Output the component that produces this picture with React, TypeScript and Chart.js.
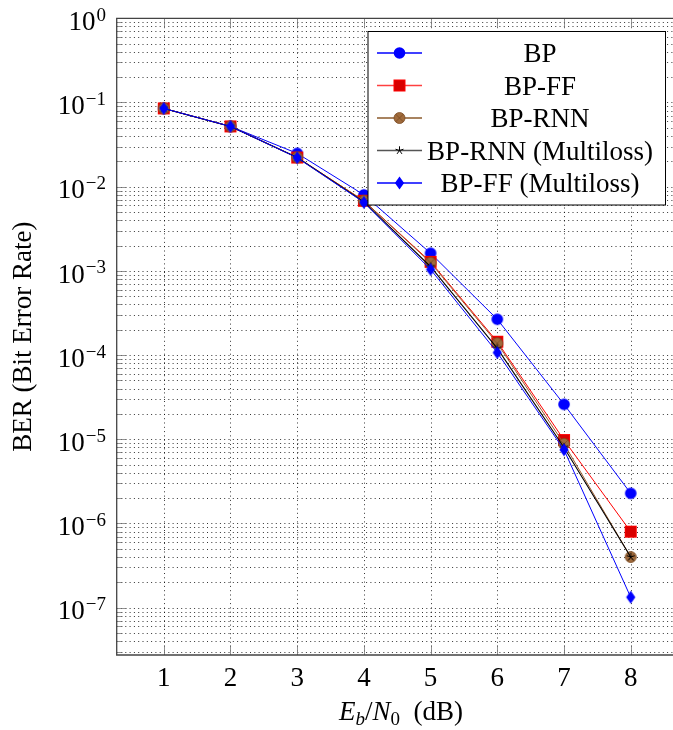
import React, { useEffect, useRef } from "react";
import { Chart, registerables } from "chart.js";

Chart.register(...registerables);

// ---- data ----
const X_VALUES = [1, 2, 3, 4, 5, 6, 7, 8];
const BP = [0.085, 0.052, 0.0249, 0.008, 0.00162, 2.66e-4, 2.6e-5, 2.28e-6];
const BP_FF = [0.085, 0.052, 0.0222, 0.0068, 0.00128, 1.44e-4, 9.8e-6, 8.0e-7];
const BP_RNN = [0.085, 0.052, 0.0223, 0.0068, 0.00125, 1.38e-4, 8.8e-6, 4.0e-7];
const BP_RNN_ML = [0.085, 0.052, 0.0222, 0.0066, 0.00112, 1.2e-4, 8.0e-6, 4.0e-7];
const BP_FF_ML = [0.085, 0.052, 0.0221, 0.0065, 0.00104, 1.07e-4, 7.5e-6, 1.33e-7];
const SERIES_NAMES = ["BP", "BP-FF", "BP-RNN", "BP-RNN (Multiloss)", "BP-FF (Multiloss)"];

const X_TICKS = [1, 2, 3, 4, 5, 6, 7, 8];
const Y_DECADES = [0, -1, -2, -3, -4, -5, -6, -7];
const X_MIN = 0.294;
const X_MAX = 8.634;
const Y_MIN = 2.74e-8;
const Y_MAX = 1;

const X_TITLE_PARTS = ["E", "b", "/", "N", "0", "  (dB)"];
const Y_TITLE = "BER (Bit Error Rate)";

const FONT = '"Liberation Serif", "Times New Roman", serif';
const FS = 27;
const FS_SMALL = 19;

type MarkerKind = "circle" | "square" | "otimes" | "star" | "diamond";

const STYLES: { line: string; legendLine: string; marker: MarkerKind; width: number }[] = [
  { line: "#0000ff", legendLine: "#0000ff", marker: "circle", width: 1 },
  { line: "#ff0000", legendLine: "#ff4040", marker: "square", width: 1 },
  { line: "#9b5a2a", legendLine: "#8b5a2b", marker: "otimes", width: 1 },
  { line: "#000000", legendLine: "#555555", marker: "star", width: 1.1 },
  { line: "#0000ff", legendLine: "#0000ff", marker: "diamond", width: 1 },
];

function drawMarker(ctx: CanvasRenderingContext2D, kind: MarkerKind, cx: number, cy: number) {
  ctx.save();
  ctx.setLineDash([]);
  if (kind === "circle") {
    ctx.beginPath();
    ctx.arc(cx, cy, 5.8, 0, Math.PI * 2);
    ctx.fillStyle = "#0000ff";
    ctx.fill();
  } else if (kind === "square") {
    ctx.fillStyle = "#d80000";
    ctx.strokeStyle = "#ff0000";
    ctx.lineWidth = 1;
    ctx.fillRect(cx - 5.5, cy - 5.5, 11, 11);
    ctx.strokeRect(cx - 5.5, cy - 5.5, 11, 11);
  } else if (kind === "otimes") {
    const r = 5.5;
    ctx.beginPath();
    ctx.arc(cx, cy, r, 0, Math.PI * 2);
    ctx.fillStyle = "#a06b3c";
    ctx.fill();
    ctx.strokeStyle = "#7a4a22";
    ctx.lineWidth = 0.8;
    ctx.stroke();
    const d = r * Math.SQRT1_2;
    ctx.beginPath();
    ctx.moveTo(cx - d, cy - d);
    ctx.lineTo(cx + d, cy + d);
    ctx.moveTo(cx - d, cy + d);
    ctx.lineTo(cx + d, cy - d);
    ctx.stroke();
  } else if (kind === "star") {
    ctx.strokeStyle = "#000";
    ctx.lineWidth = 1;
    ctx.beginPath();
    for (let k = 0; k < 5; k++) {
      const ang = -Math.PI / 2 + (k * 2 * Math.PI) / 5;
      ctx.moveTo(cx, cy);
      ctx.lineTo(cx + 4.2 * Math.cos(ang), cy + 4.2 * Math.sin(ang));
    }
    ctx.stroke();
  } else if (kind === "diamond") {
    ctx.fillStyle = "#0000ff";
    ctx.beginPath();
    ctx.moveTo(cx, cy - 6.5);
    ctx.lineTo(cx + 4.6, cy);
    ctx.lineTo(cx, cy + 6.5);
    ctx.lineTo(cx - 4.6, cy);
    ctx.closePath();
    ctx.fill();
  }
  ctx.restore();
}

function markerCanvas(kind: MarkerKind): HTMLCanvasElement {
  const c = document.createElement("canvas");
  c.width = 18;
  c.height = 18;
  const cx = c.getContext("2d")!;
  drawMarker(cx, kind, 9, 9);
  return c;
}

function yGridValues(): { v: number; major: boolean }[] {
  const out: { v: number; major: boolean }[] = [];
  for (let e = -8; e <= 0; e++) {
    for (let m = 1; m <= 9; m++) {
      const v = m * Math.pow(10, e);
      if (v >= Y_MIN * 0.999 && v <= Y_MAX * 1.0001) out.push({ v, major: m === 1 });
    }
  }
  return out;
}

const pgfPlugin = {
  id: "pgfDecor",
  beforeDatasetsDraw(chart: any) {
    const { ctx, chartArea: a, scales } = chart;
    const xs = scales.x;
    const ys = scales.y;
    ctx.save();
    ctx.strokeStyle = "rgba(0,0,0,0.8)";
    ctx.lineWidth = 1;
    ctx.setLineDash([1, 3.3]);
    for (const g of yGridValues()) {
      const py = Math.round(ys.getPixelForValue(g.v)) + 0.5;
      if (py < a.top || py > a.bottom) continue;
      ctx.beginPath();
      ctx.moveTo(a.left, py);
      ctx.lineTo(a.right, py);
      ctx.stroke();
    }
    for (const t of X_TICKS) {
      const px = Math.round(xs.getPixelForValue(t)) + 0.5;
      ctx.beginPath();
      ctx.moveTo(px, a.top);
      ctx.lineTo(px, a.bottom);
      ctx.stroke();
    }
    ctx.setLineDash([]);
    // tick marks (inside)
    ctx.strokeStyle = "#777";
    ctx.lineWidth = 0.8;
    for (const g of yGridValues()) {
      const py = Math.round(ys.getPixelForValue(g.v)) + 0.5;
      if (py < a.top || py > a.bottom) continue;
      const len = g.major ? 10 : 6;
      ctx.beginPath();
      ctx.moveTo(a.left, py);
      ctx.lineTo(a.left + len, py);
      ctx.stroke();
    }
    for (const t of X_TICKS) {
      const px = Math.round(xs.getPixelForValue(t)) + 0.5;
      ctx.beginPath();
      ctx.moveTo(px, a.bottom);
      ctx.lineTo(px, a.bottom - 10);
      ctx.moveTo(px, a.top);
      ctx.lineTo(px, a.top + 10);
      ctx.stroke();
    }
    ctx.restore();
  },
  afterDraw(chart: any) {
    const { ctx, chartArea: a, scales, data } = chart;
    const xs = scales.x;
    const ys = scales.y;
    ctx.save();
    // frame
    ctx.strokeStyle = "#444";
    ctx.lineWidth = 1.3;
    ctx.beginPath();
    ctx.moveTo(a.right + 2, a.top);
    ctx.lineTo(a.left, a.top);
    ctx.lineTo(a.left, a.bottom);
    ctx.lineTo(a.right + 2, a.bottom);
    ctx.stroke();

    ctx.fillStyle = "#000";
    // x tick labels
    ctx.font = `${FS}px ${FONT}`;
    ctx.textAlign = "center";
    ctx.textBaseline = "alphabetic";
    for (const t of X_TICKS) {
      ctx.fillText(String(t), xs.getPixelForValue(t), 686);
    }
    // y tick labels 10^n
    for (const e of Y_DECADES) {
      const py = ys.getPixelForValue(Math.pow(10, e));
      const exp = e === 0 ? "0" : "\u2212" + String(-e);
      ctx.font = `${FS_SMALL}px ${FONT}`;
      const ew = ctx.measureText(exp).width;
      ctx.font = `${FS}px ${FONT}`;
      const bw = ctx.measureText("10").width;
      const right = 106;
      ctx.textAlign = "left";
      ctx.fillText("10", right - ew - bw - 1, py + 11.8);
      ctx.font = `${FS_SMALL}px ${FONT}`;
      ctx.fillText(exp, right - ew, py + 2.5);
    }
    // x title
    const parts = [
      { t: X_TITLE_PARTS[0], f: `italic ${FS}px ${FONT}`, dy: 0 },
      { t: X_TITLE_PARTS[1], f: `italic ${FS_SMALL}px ${FONT}`, dy: 5 },
      { t: X_TITLE_PARTS[2], f: `${FS}px ${FONT}`, dy: 0 },
      { t: X_TITLE_PARTS[3], f: `italic ${FS}px ${FONT}`, dy: 0 },
      { t: X_TITLE_PARTS[4], f: `${FS_SMALL}px ${FONT}`, dy: 5 },
      { t: X_TITLE_PARTS[5], f: `${FS}px ${FONT}`, dy: 0 },
    ];
    let total = 0;
    const widths = parts.map((p) => {
      ctx.font = p.f;
      const w = ctx.measureText(p.t).width;
      total += w;
      return w;
    });
    let cx = 401 - total / 2;
    ctx.textAlign = "left";
    parts.forEach((p, i) => {
      ctx.font = p.f;
      ctx.fillText(p.t, cx, 720 + p.dy);
      cx += widths[i];
    });
    // y title
    ctx.save();
    ctx.translate(31, (a.top + a.bottom) / 2);
    ctx.rotate(-Math.PI / 2);
    ctx.font = `${FS}px ${FONT}`;
    ctx.textAlign = "center";
    ctx.fillText(Y_TITLE, 0, 0);
    ctx.restore();

    // legend
    const lx0 = 368, ly0 = 31.5, lx1 = 665.5, ly1 = 205;
    ctx.fillStyle = "#fff";
    ctx.fillRect(lx0, ly0, lx1 - lx0, ly1 - ly0);
    ctx.strokeStyle = "#000";
    ctx.lineWidth = 1;
    ctx.strokeRect(lx0, ly0, lx1 - lx0, ly1 - ly0);
    data.datasets.forEach((ds: any, i: number) => {
      const ry = 53 + i * 32.5;
      const st = STYLES[i];
      ctx.strokeStyle = st.legendLine;
      ctx.lineWidth = st.width + 0.5;
      ctx.beginPath();
      ctx.moveTo(377, ry);
      ctx.lineTo(422, ry);
      ctx.stroke();
      drawMarker(ctx, st.marker, 399.5, ry);
      ctx.fillStyle = "#000";
      ctx.font = `${FS}px ${FONT}`;
      ctx.textAlign = "center";
      ctx.textBaseline = "alphabetic";
      ctx.fillText(ds.label, 540, ry + 9);
    });
    ctx.restore();
  },
};

export default function App() {
  const ref = useRef<HTMLCanvasElement | null>(null);
  useEffect(() => {
    if (!ref.current) return;
    const seriesValues = [BP, BP_FF, BP_RNN, BP_RNN_ML, BP_FF_ML];
    const datasets = seriesValues.map((vals, i) => ({
      label: SERIES_NAMES[i],
      data: X_VALUES.map((x, j) => ({ x, y: vals[j] })),
      borderColor: STYLES[i].line,
      backgroundColor: STYLES[i].line,
      borderWidth: STYLES[i].width,
      pointStyle: markerCanvas(STYLES[i].marker),
      pointRadius: 5,
      pointHoverRadius: 5,
      tension: 0,
      order: 5 - i,
      clip: false as any,
    }));
    const chart = new Chart(ref.current, {
      type: "line",
      data: { datasets },
      options: {
        responsive: false,
        animation: false,
        devicePixelRatio: 1,
        layout: { autoPadding: false, padding: { left: 116.7, top: 18.3, right: 0, bottom: 75 } },
        plugins: { legend: { display: false }, tooltip: { enabled: false } },
        events: [],
        scales: {
          x: { type: "linear", min: X_MIN, max: X_MAX, display: false },
          y: { type: "logarithmic", min: Y_MIN, max: Y_MAX, display: false },
        },
      },
      plugins: [pgfPlugin],
    });
    return () => chart.destroy();
  }, []);
  return (
    <div
      style={{
        position: "fixed",
        left: 0,
        top: 0,
        width: 673,
        height: 730,
        overflow: "hidden",
        background: "#fff",
      }}
    >
      <canvas ref={ref} width={673} height={730} style={{ display: "block" }} />
    </div>
  );
}
